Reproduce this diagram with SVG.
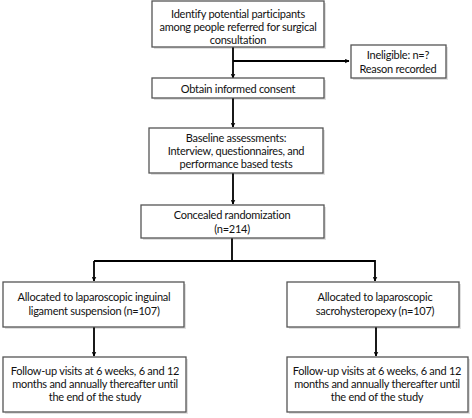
<svg xmlns="http://www.w3.org/2000/svg" width="472" height="418" viewBox="0 0 472 418">
<defs>
<marker id="arr" viewBox="0 0 10 10" refX="9" refY="5" markerWidth="5" markerHeight="5" orient="auto" markerUnits="userSpaceOnUse">
<path d="M0,0 L10,5 L0,10 L3,5 Z" fill="#000"/>
</marker>
</defs>
<style>
.box{fill:#fff;stroke:#555;stroke-width:1.3}
.sh{fill:#000;opacity:0.12}
.t{font-family:Lato,"Open Sans","Liberation Sans",sans-serif;font-size:11px;letter-spacing:-0.25px;fill:#111;text-anchor:middle}
.c{fill:none;stroke:#000;stroke-width:1.8}
</style>
<g id="connectors">
<path class="c" d="M233,47 V78" marker-end="url(#arr)"/>
<path class="c" d="M233,61 H349" marker-end="url(#arr)"/>
<path class="c" d="M233,98 V127" marker-end="url(#arr)"/>
<path class="c" d="M233,173 V204" marker-end="url(#arr)"/>
<path class="c" d="M232,238 V261"/>
<path class="c" d="M94,261 H375 V281" marker-end="url(#arr)"/>
<path class="c" d="M94,261 V281" marker-end="url(#arr)"/>
<path class="c" d="M94,327 V356" marker-end="url(#arr)"/>
<path class="c" d="M376,327 V356" marker-end="url(#arr)"/>
</g>
<g id="identify">
<rect class="sh" x="154" y="3" width="172" height="46"/>
<rect class="box" x="152" y="1" width="172" height="46"/>
<text class="t" x="238" y="18">Identify potential participants</text>
<text class="t" x="238" y="31">among people referred for surgical</text>
<text class="t" x="238" y="44">consultation</text>
</g>
<g id="ineligible">
<rect class="sh" x="353" y="47" width="95" height="33"/>
<rect class="box" x="351" y="45" width="95" height="33"/>
<text class="t" x="398" y="59">Ineligible: n=?</text>
<text class="t" x="398" y="73">Reason recorded</text>
</g>
<g id="consent">
<rect class="sh" x="154" y="80" width="172" height="20"/>
<rect class="box" x="152" y="78" width="172" height="20"/>
<text class="t" x="238" y="92.5">Obtain informed consent</text>
</g>
<g id="baseline">
<rect class="sh" x="151" y="130" width="174" height="45"/>
<rect class="box" x="149" y="128" width="174" height="45"/>
<text class="t" x="236" y="142">Baseline assessments:</text>
<text class="t" x="236" y="155">Interview, questionnaires, and</text>
<text class="t" x="236" y="168">performance based tests</text>
</g>
<g id="randomization">
<rect class="sh" x="143" y="207" width="183" height="33"/>
<rect class="box" x="141" y="205" width="183" height="33"/>
<text class="t" x="232" y="219">Concealed randomization</text>
<text class="t" x="232" y="233">(n=214)</text>
</g>
<g id="alloc-left">
<rect class="sh" x="5" y="284" width="181" height="45"/>
<rect class="box" x="3" y="282" width="181" height="45"/>
<text class="t" x="94" y="301">Allocated to laparoscopic inguinal</text>
<text class="t" x="94" y="315">ligament suspension (n=107)</text>
</g>
<g id="alloc-right">
<rect class="sh" x="289" y="284" width="172" height="45"/>
<rect class="box" x="287" y="282" width="172" height="45"/>
<text class="t" x="375" y="301">Allocated to laparoscopic</text>
<text class="t" x="375" y="315">sacrohysteropexy (n=107)</text>
</g>
<g id="followup-left">
<rect class="sh" x="5" y="359" width="183" height="55"/>
<rect class="box" x="3" y="357" width="183" height="55"/>
<text class="t" x="95" y="375">Follow-up visits at 6 weeks, 6 and 12</text>
<text class="t" x="95" y="388">months and annually thereafter until</text>
<text class="t" x="95" y="401">the end of the study</text>
</g>
<g id="followup-right">
<rect class="sh" x="289" y="359" width="181" height="55"/>
<rect class="box" x="287" y="357" width="181" height="55"/>
<text class="t" x="377" y="375">Follow-up visits at 6 weeks, 6 and 12</text>
<text class="t" x="377" y="388">months and annually thereafter until</text>
<text class="t" x="377" y="401">the end of the study</text>
</g>
</svg>
